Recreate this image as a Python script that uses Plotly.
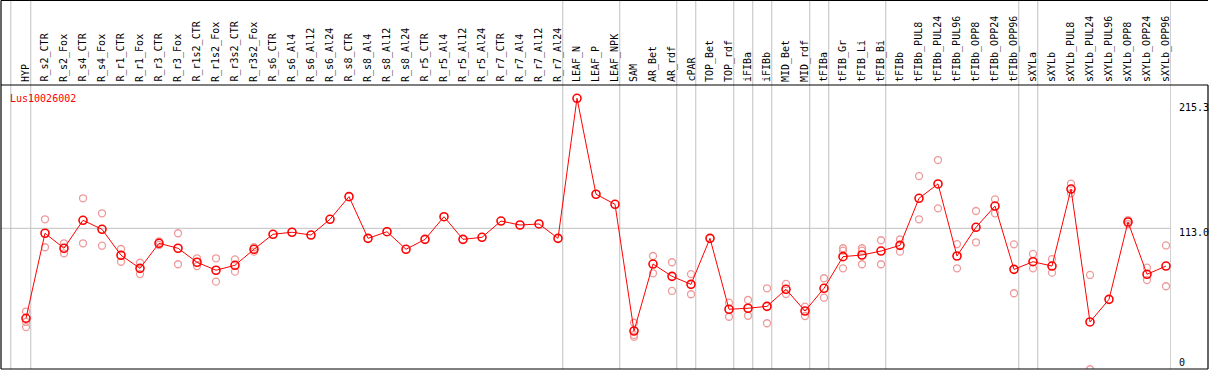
import plotly.graph_objects as go

# ---------------- data ----------------
categories = [
    "HYP", "R_s2_CTR", "R_s2_Fox", "R_s4_CTR", "R_s4_Fox", "R_r1_CTR", "R_r1_Fox",
    "R_r3_CTR", "R_r3_Fox", "R_r1s2_CTR", "R_r1s2_Fox", "R_r3s2_CTR", "R_r3s2_Fox",
    "R_s6_CTR", "R_s6_Al4", "R_s6_Al12", "R_s6_Al24", "R_s8_CTR", "R_s8_Al4",
    "R_s8_Al12", "R_s8_Al24", "R_r5_CTR", "R_r5_Al4", "R_r5_Al12", "R_r5_Al24",
    "R_r7_CTR", "R_r7_Al4", "R_r7_Al12", "R_r7_Al24", "LEAF_N", "LEAF_P", "LEAF_NPK",
    "SAM", "AR_Bet", "AR_rdf", "cPAR", "TOP_Bet", "TOP_rdf", "iFIBa", "iFIBb",
    "MID_Bet", "MID_rdf", "tFIBa", "tFIB_Gr", "tFIB_Li", "tFIB_Bi", "tFIBb",
    "tFIBb_PUL8", "tFIBb_PUL24", "tFIBb_PUL96", "tFIBb_OPP8", "tFIBb_OPP24",
    "tFIBb_OPP96", "sXYLa", "sXYLb", "sXYLb_PUL8", "sXYLb_PUL24", "sXYLb_PUL96",
    "sXYLb_OPP8", "sXYLb_OPP24", "sXYLb_OPP96",
]

mean_values = [
    42.2, 109.1, 97.3, 119.3, 112.2, 91.8, 81.5,
    101.2, 97.3, 86.3, 80.0, 83.9, 96.5,
    108.3, 109.9, 107.7, 120.1, 137.9, 105.1,
    110.3, 96.5, 104.3, 122.1, 104.3, 105.9,
    118.7, 115.6, 116.4, 105.1, 215.3, 139.8, 131.9,
    32.2, 84.9, 75.2, 68.9, 105.1, 49.3, 50.1, 51.6,
    65.0, 47.9, 65.8, 90.7, 92.0, 95.1, 99.6,
    136.6, 147.9, 91.2, 113.8, 130.5,
    80.7, 86.7, 83.3, 143.9, 39.3, 57.1,
    118.0, 76.8, 83.3,
]

replicate_a = [
    47.5, 120.1, 101.2, 136.6, 124.8, 96.7, 85.9,
    102.6, 109.1, 89.4, 89.4, 88.6, 98.1,
    None, None, None, None, None, None,
    None, None, None, None, None, None,
    None, None, None, None, None, None, None,
    38.7, 91.2, 86.3, 77.0, None, 54.5, 56.6, 65.8,
    69.2, 51.3, 73.7, 97.3, 97.3, 103.6, 104.2,
    154.1, 166.7, 100.6, 126.6, 135.8,
    100.4, 92.8, 88.8, 148.1, 76.3, None,
    119.5, 82.0, 99.5,
]

replicate_b = [
    39.3, 98.1, 93.3, 101.2, 99.3, 86.7, 77.0,
    99.9, 84.7, 83.3, 71.0, 78.9, 94.6,
    None, None, None, None, None, None,
    None, None, None, None, None, None,
    None, None, None, None, None, None, None,
    29.1, 77.6, 63.7, 61.1, None, 43.4, 44.2, 38.3,
    61.3, 44.0, 58.4, 95.4, 95.4, 84.7, 94.6,
    120.1, 128.7, 81.5, 102.0, 124.8,
    61.9, 81.5, 78.1, 140.5, 2.1, None,
    116.4, 72.3, 67.4,
]

replicate_c = [
    35.3, None, None, None, None, None, None,
    None, None, None, None, None, None,
    None, None, None, None, None, None,
    None, None, None, None, None, None,
    None, None, None, None, None, None, None,
    27.7, None, None, None, None, None, None, None,
    None, None, None, 81.5, 84.7, None, None,
    None, None, None, None, None,
    None, None, None, None, None, None,
    None, None, None,
]

group_ends = ["HYP", "R_r7_Al24", "LEAF_NPK", "AR_rdf", "cPAR", "TOP_rdf", "iFIBa",
              "iFIBb", "MID_rdf", "tFIBa", "tFIB_Bi", "tFIBb_OPP96", "sXYLa",
              "sXYLb_OPP96"]

gene_name = "Lus10026002"
reference_value = 113.0
scale_labels = ["215.3", "113.0", "0"]

# ---------------- geometry / style ----------------
W, H = 1209, 370
PL, PR, PT, PB = 1, 1171, 85, 369          # plot area in pixels
X0_PX, STEP_PX = 26.0, 19.0                # category centre spacing
PX_PER_UNIT = 1.271
REF_PX = 228.3

def paper_x(px):
    return (px - PL) / (PR - PL)

def paper_y(py):
    return (PB - py) / (PB - PT)

x_range = [(PL - X0_PX) / STEP_PX, (PR - X0_PX) / STEP_PX]
y_range = [reference_value - (PB - REF_PX) / PX_PER_UNIT,
           reference_value + (REF_PX - PT) / PX_PER_UNIT]

FONT = "DejaVu Sans Mono"
RED = "#ff0000"
PINK = "#ee9a9a"
GRAY = "#c0c0c0"

xs = list(range(len(categories)))

fig = go.Figure()
for rep in (replicate_a, replicate_b, replicate_c):
    fig.add_trace(go.Scatter(
        x=xs, y=rep, mode="markers",
        marker=dict(symbol="circle-open", size=7, color=PINK, line=dict(width=1.3, color=PINK)),
        showlegend=False, hoverinfo="skip",
    ))

fig.add_trace(go.Scatter(
    x=xs, y=mean_values, mode="lines+markers",
    line=dict(color=RED, width=1),
    marker=dict(symbol="circle-open", size=8, color=RED, line=dict(width=1.6, color=RED)),
    showlegend=False, name=gene_name,
))

shapes = []
top_paper = paper_y(0.5)
# group separators
sep_positions = [-0.8] + [categories.index(c) + 0.25 for c in group_ends]
for sx in sep_positions:
    shapes.append(dict(type="line", xref="x", yref="paper", x0=sx, x1=sx,
                       y0=0, y1=top_paper, line=dict(color=GRAY, width=1), layer="below"))
# reference line
shapes.append(dict(type="line", xref="paper", yref="y", x0=0, x1=1,
                   y0=reference_value, y1=reference_value,
                   line=dict(color=GRAY, width=1), layer="below"))
# black frame
right = paper_x(1208)
black = dict(color="black", width=1.2)
shapes += [
    dict(type="line", xref="paper", yref="paper", x0=0, x1=right, y0=top_paper, y1=top_paper, line=black),
    dict(type="line", xref="paper", yref="paper", x0=0, x1=right, y0=1, y1=1, line=black),
    dict(type="line", xref="paper", yref="paper", x0=0, x1=right, y0=0, y1=0, line=black),
    dict(type="line", xref="paper", yref="paper", x0=0, x1=0, y0=0, y1=top_paper, line=black),
    dict(type="line", xref="paper", yref="paper", x0=right, x1=right, y0=0, y1=1, line=black),
]

annotations = []
for i, name in enumerate(categories):
    annotations.append(dict(
        x=i, xref="x", y=paper_y(84), yref="paper", text=name, textangle=-90,
        showarrow=False, xanchor="center", yanchor="bottom",
        font=dict(family=FONT, size=10, color="black"),
    ))

annotations.append(dict(
    x=paper_x(8), xref="paper", y=paper_y(98), yref="paper", text=gene_name,
    showarrow=False, xanchor="left", yanchor="middle",
    font=dict(family=FONT, size=10, color=RED),
))

label_px = [107, 232, 362]
for txt, py in zip(scale_labels, label_px):
    annotations.append(dict(
        x=paper_x(1177), xref="paper", y=paper_y(py), yref="paper", text=txt,
        showarrow=False, xanchor="left", yanchor="middle",
        font=dict(family=FONT, size=10, color="black"),
    ))

fig.update_layout(
    width=W, height=H,
    margin=dict(l=PL, r=W - PR, t=PT, b=H - PB, pad=0, autoexpand=False),
    paper_bgcolor="white", plot_bgcolor="white",
    xaxis=dict(range=x_range, visible=False, fixedrange=True),
    yaxis=dict(range=y_range, visible=False, fixedrange=True),
    shapes=shapes, annotations=annotations,
    showlegend=False,
)

fig.write_html(
    "out.html",
    config={"displayModeBar": False, "staticPlot": True},
    post_script="document.body.style.margin='0';document.body.style.overflow='hidden';",
)
